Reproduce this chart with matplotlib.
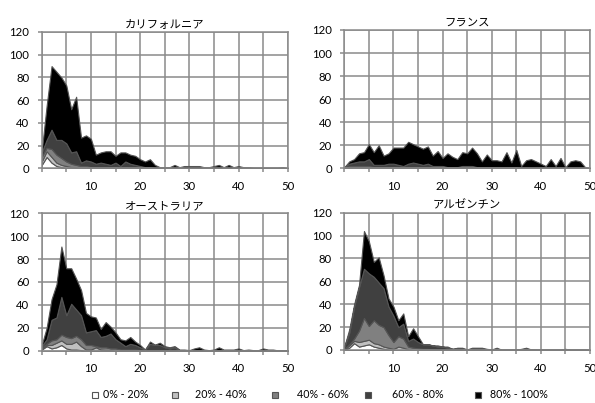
import numpy as np
import matplotlib
matplotlib.use("Agg")
import matplotlib.pyplot as plt
from matplotlib.patches import Rectangle

plt.rcParams['font.family'] = ['Lato', 'Noto Sans CJK JP', 'DejaVu Sans']

x = np.arange(51)

layer_labels = ['0% - 20%', '20% - 40%', '40% - 60%', '60% - 80%', '80% - 100%']
layer_colors = ['#ffffff', '#c0c0c0', '#808080', '#404040', '#000000']
titles = ['カリフォルニア', 'フランス', 'オーストラリア', 'アルゼンチン']

# ---------------- California ----------------
ca_l1 = [3, 10, 5, 2, 1, 0.5] + [0] * 45
ca_l2 = [3, 5, 5, 3, 2, 1.5, 1, 1, 0.5, 0.5, 0.3, 0.3, 0.3, 0.3, 0.3, 0.3, 0.2, 0.3, 0.2, 0.2] + [0] * 31
ca_l3 = [4, 3, 7, 7, 6, 4, 3, 2, 1.5, 1.5, 0.7, 0.7, 0.7, 0.7, 0.7, 0.7, 0.3, 0.7, 0.3, 0.3,
         0.5, 0.3, 0.3] + [0] * 28
ca_l4 = [4, 7, 17, 13, 16, 16, 10, 12, 3, 5, 5, 3, 4, 3, 2, 4, 1.5, 5, 3.5, 2.5,
         1.5, 0.7, 0.7, 0.5] + [0.3] * 26 + [0]
ca_l5 = [1, 30, 56, 60, 55, 51, 38, 48, 22, 22, 20, 8, 9, 11, 12, 6, 12, 8, 8, 8,
         6, 5, 7, 2.5,
         0.7, 0.7, 0.7, 2.7, 0.7, 1.7, 1.7, 1.7, 1.7, 0.7, 0.7, 1.7, 2.7, 0.7, 2.7, 0.7,
         1.7, 0.7, 0.7, 0.2, 0.2, 0.2, 0.2, 0.2, 0.2, 0.7, 0]

# ---------------- France ----------------
fr_l1 = [0, 1, 0.5, 0.5, 0.3, 0.3] + [0] * 45
fr_l2 = [0.3, 0.5, 0.7, 0.7, 0.7, 0.7, 0.5, 0.5, 0.5, 0.5, 0.5, 0.3, 0.3, 0.3, 0.3, 0.3,
         0.3, 0.3, 0.3, 0.3, 0.3] + [0] * 30
fr_l3 = [0.2, 0.5, 0.8, 0.8, 1, 1] + [0.5] * 15 + [0.3] * 15 + [0] * 15
fr_l4 = [0.5, 2, 3, 4, 4, 6, 2, 2, 2, 3, 3, 2.2, 1.2, 3.2, 4.2, 3.2, 2.2, 3.2, 1.2, 1.2,
         1.2, 0.7, 0.7, 0.7, 1.7, 1.7, 1.7] + [0.7] * 9 + [0.5] * 9 + [0.3, 0.5, 0.5, 0.5, 0.3, 0]
fr_l5 = [0, 2, 3, 7, 8, 13, 11, 17, 8, 9, 14, 15, 16, 19, 16, 15, 14, 15, 9, 13,
         7, 12, 9, 7, 12, 11, 16, 12, 5, 11, 6, 6, 5, 13, 4, 15,
         1.5, 6.5, 7.5, 5.5, 3.5, 1.5, 7.5, 1.5, 8.5, 0.7, 5.5, 6.5, 5.5, 0.7, 0]

# ---------------- Australia ----------------
au_l1 = [1, 4, 2, 3, 5, 2, 1, 1, 0.5] + [0] * 42
au_l2 = [1, 1, 3, 4, 4, 4, 5, 7, 3.5, 1, 1, 3, 1, 0.5, 0.5] + [0] * 36
au_l3 = [1, 1, 4, 3, 5, 6, 5, 5, 6, 4, 4, 1, 2, 2.5, 1.5, 2, 1, 1, 1, 1, 0.5] + [0] * 30
au_l4 = [1, 4, 18, 19, 33, 19, 30, 23, 21, 11, 12, 14, 9, 10, 13, 8, 6, 3, 5, 4,
         2.5, 1, 6, 5, 5, 3, 2, 3] + [0.3] * 22 + [0]
au_l5 = [1, 10, 18, 29, 44, 41, 31, 27, 22, 17, 13, 11, 7, 12, 6, 6, 3, 5, 6, 3,
         2, 0, 2, 0.3, 2, 1, 1, 1,
         0.7, 0.7, 0.2, 1.7, 2.7, 0.7, 0.2, 0.7, 2.7, 0.7, 0.7, 0.7, 1.7, 0.2, 0.7, 0.2,
         0.2, 1.7, 0.7, 0.7, 0, 0, 0]

# ---------------- Argentina ----------------
ar_l1 = [0, 2, 6, 3, 4, 5, 3, 2, 1, 0.5] + [0] * 41
ar_l2 = [0.5, 2, 2, 4, 4, 4, 3, 3, 2, 1.5, 1, 3, 2, 0.5] + [0] * 37
ar_l3 = [0.5, 1, 2, 10, 20, 12, 20, 17, 17, 11, 6, 9, 8, 2.5, 2, 1.5, 1, 1, 0.5] + [0] * 32
ar_l4 = [2, 10, 28, 38, 43, 46, 38, 37, 34, 25, 23, 8, 13, 5, 8, 5.5, 4, 4, 3.5, 3,
         3, 2, 1, 1, 1, 0.5, 1, 1, 1, 0.5, 0.3, 1, 0.2, 0.2, 0.2, 0.2, 0.5, 1, 0.3,
         0.2, 0.2, 0.2, 0.2, 0.2, 0.2, 0.5, 0.2, 0.2, 0.2, 0.2, 0]
ar_l5 = [0, 3, 2, 2, 33, 28, 13, 22, 11, 7, 8, 6, 9, 4, 9, 5, 0, 0, 0, 1,
         0, 1, 0, 1, 1, 0, 1, 1, 1, 0.5, 0.2, 1, 0.1, 0.1, 0.1, 0.1, 0.5, 1, 0.2,
         0.1, 0.1, 0.1, 0.1, 0.1, 0.1, 0.5, 0.1, 0.1, 0.1, 0.1, 0]

regions = [
    [ca_l1, ca_l2, ca_l3, ca_l4, ca_l5],
    [fr_l1, fr_l2, fr_l3, fr_l4, fr_l5],
    [au_l1, au_l2, au_l3, au_l4, au_l5],
    [ar_l1, ar_l2, ar_l3, ar_l4, ar_l5],
]

W, H = 595, 403
fig = plt.figure(figsize=(W / 100, H / 100), dpi=100)

# pixel boxes: left, right, top, bottom
boxes = [
    (41.7, 287.7, 32.0, 168.3),
    (344.3, 590.0, 30.0, 168.3),
    (41.7, 287.7, 213.3, 350.7),
    (344.3, 590.0, 212.7, 350.0),
]

grid_col = '#8a8a8a'
for (l, r, t, b), layers, title in zip(boxes, regions, titles):
    ax = fig.add_axes([l / W, 1 - b / H, (r - l) / W, (b - t) / H])
    ax.stackplot(x, *layers, colors=layer_colors, edgecolor='#555555', linewidth=0.8)
    ax.set_xlim(0, 50)
    ax.set_ylim(0, 120)
    ax.set_yticks(np.arange(0, 121, 20))
    ax.set_xticks(np.arange(0, 51, 5))
    ax.set_xticklabels(['' if (v % 10 or v == 0) else str(v) for v in range(0, 51, 5)])
    ax.set_axisbelow(True)
    ax.grid(True, color=grid_col, linewidth=1.1)
    for s in ax.spines.values():
        s.set_color(grid_col)
        s.set_linewidth(1.1)
    ax.tick_params(axis='both', direction='out', length=3, width=1.1, color=grid_col,
                   labelsize=8.2, labelcolor='#000000')
    ax.tick_params(axis='x', pad=6.0)
    ax.tick_params(axis='y', pad=5.8)
    ax.set_title(title, fontsize=8.2, pad=3)

# legend placed in pixel positions (marker centre, text left)
marker_cx = [95, 175, 275, 368, 478]
text_x = [103, 195, 297, 391.5, 490]
ly = 395
ms = 6.5
for cx, tx, c, lab in zip(marker_cx, text_x, layer_colors, layer_labels):
    fig.patches.append(Rectangle(((cx - ms / 2) / W, 1 - (ly + ms / 2) / H), ms / W, ms / H,
                                 transform=fig.transFigure, facecolor=c,
                                 edgecolor='#555555', linewidth=0.8))
    fig.text(tx / W, 1 - ly / H, lab, fontsize=7.7, va='center', ha='left')

fig.savefig('out.png', dpi=100)
